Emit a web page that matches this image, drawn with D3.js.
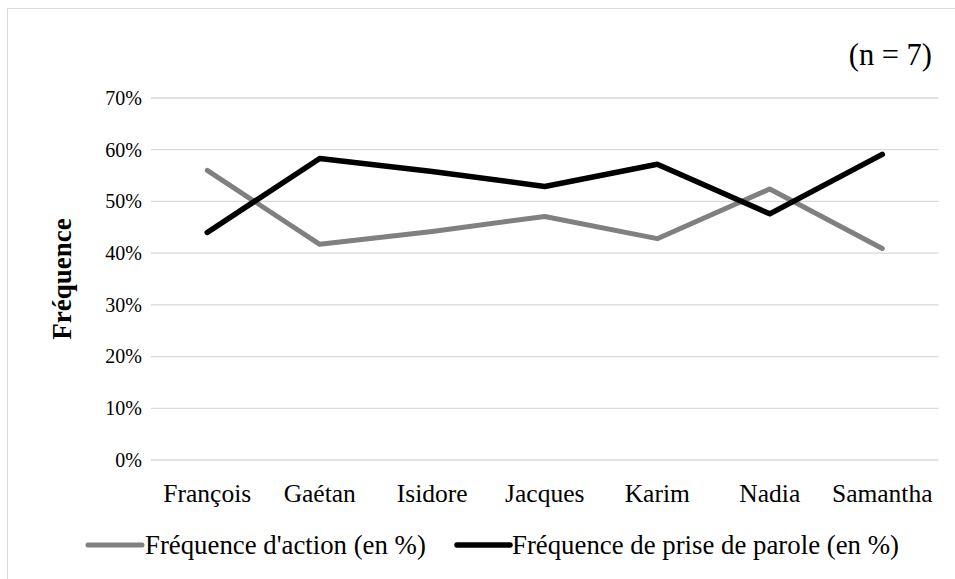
<!DOCTYPE html>
<html>
<head>
<meta charset="utf-8">
<script src="https://cdn.jsdelivr.net/npm/d3@7"></script>
<style>
  html, body { margin: 0; padding: 0; background: #fff; }
  svg text { font-family: "Liberation Serif", "Times New Roman", Times, "DejaVu Serif", serif !important; fill: #000; }
</style>
</head>
<body>
<svg id="chart" width="955" height="579"></svg>
<script>
// Participants and their share of actions vs. speaking turns
const categories = ["François", "Gaétan", "Isidore", "Jacques", "Karim", "Nadia", "Samantha"];
const actionFreq = [56.0, 41.7, 44.2, 47.1, 42.8, 52.4, 40.9];
const speechFreq = [44.0, 58.3, 55.8, 52.9, 57.2, 47.6, 59.1];
const yTicks = [0, 10, 20, 30, 40, 50, 60, 70];
const seriesNames = ["Fréquence d'action (en %)", "Fréquence de prise de parole (en %)"];
const seriesColors = ["#808080", "#000000"];

const FONT = '"Liberation Serif", "Times New Roman", Times, "DejaVu Serif", serif';
const svg = d3.select("#chart");
const W = 955, H = 579;
const plot = { left: 151, right: 938.5, top: 98, bottom: 460 };

// chart frame
svg.append("rect")
  .attr("x", 7.5).attr("y", 8.5)
  .attr("width", W + 20).attr("height", H + 20)
  .attr("fill", "#fff").attr("stroke", "#d9d9d9").attr("stroke-width", 1);

const x = d3.scaleBand().domain(categories).range([plot.left, plot.right]);
const y = d3.scaleLinear().domain([0, 70]).range([plot.bottom, plot.top]);

// horizontal gridlines
svg.append("g").selectAll("line").data(yTicks).join("line")
  .attr("x1", plot.left).attr("x2", plot.right)
  .attr("y1", d => y(d)).attr("y2", d => y(d))
  .attr("stroke", "#d9d9d9").attr("stroke-width", 1.3);

// y axis labels
const yAxis = d3.axisLeft(y).tickValues(yTicks).tickFormat(d => d + "%").tickSize(0).tickPadding(9);
const gy = svg.append("g").attr("transform", `translate(${plot.left},0)`).call(yAxis);
gy.attr("font-family", FONT);
gy.select(".domain").remove();
gy.selectAll("text").attr("font-size", 20).attr("fill", "#000");

// x axis labels
const xAxis = d3.axisBottom(x).tickSize(0).tickPadding(24);
const gx = svg.append("g").attr("transform", `translate(0,${plot.bottom})`).call(xAxis);
gx.attr("font-family", FONT);
gx.select(".domain").remove();
gx.selectAll("text").attr("font-size", 25.5).attr("fill", "#000");

// y axis title
svg.append("text")
  .attr("transform", `translate(71,${(plot.top + plot.bottom) / 2}) rotate(-90)`)
  .attr("text-anchor", "middle")
  .attr("font-size", 27).attr("font-weight", "bold")
  .text("Fréquence");

// sample size note
svg.append("text")
  .attr("x", 932).attr("y", 65)
  .attr("text-anchor", "end")
  .attr("font-size", 30.5)
  .text("(n = 7)");

// series lines
const line = d3.line()
  .x((d, i) => x(categories[i]) + x.bandwidth() / 2)
  .y(d => y(d));

[actionFreq, speechFreq].forEach((vals, k) => {
  svg.append("path")
    .datum(vals)
    .attr("d", line)
    .attr("fill", "none")
    .attr("stroke", seriesColors[k])
    .attr("stroke-width", k === 0 ? 5 : 5.5)
    .attr("stroke-linecap", "round")
    .attr("stroke-linejoin", "round");
});

// legend
const legendItems = [
  { x1: 88, x2: 142, tx: 145 },
  { x1: 457, x2: 510, tx: 512 }
];
legendItems.forEach((it, k) => {
  svg.append("line")
    .attr("x1", it.x1).attr("x2", it.x2)
    .attr("y1", 545).attr("y2", 545)
    .attr("stroke", seriesColors[k])
    .attr("stroke-width", k === 0 ? 5 : 5.5)
    .attr("stroke-linecap", "round");
  svg.append("text")
    .attr("x", it.tx).attr("y", 554)
    .attr("font-size", 26.8)
    .text(seriesNames[k]);
});
</script>
</body>
</html>
